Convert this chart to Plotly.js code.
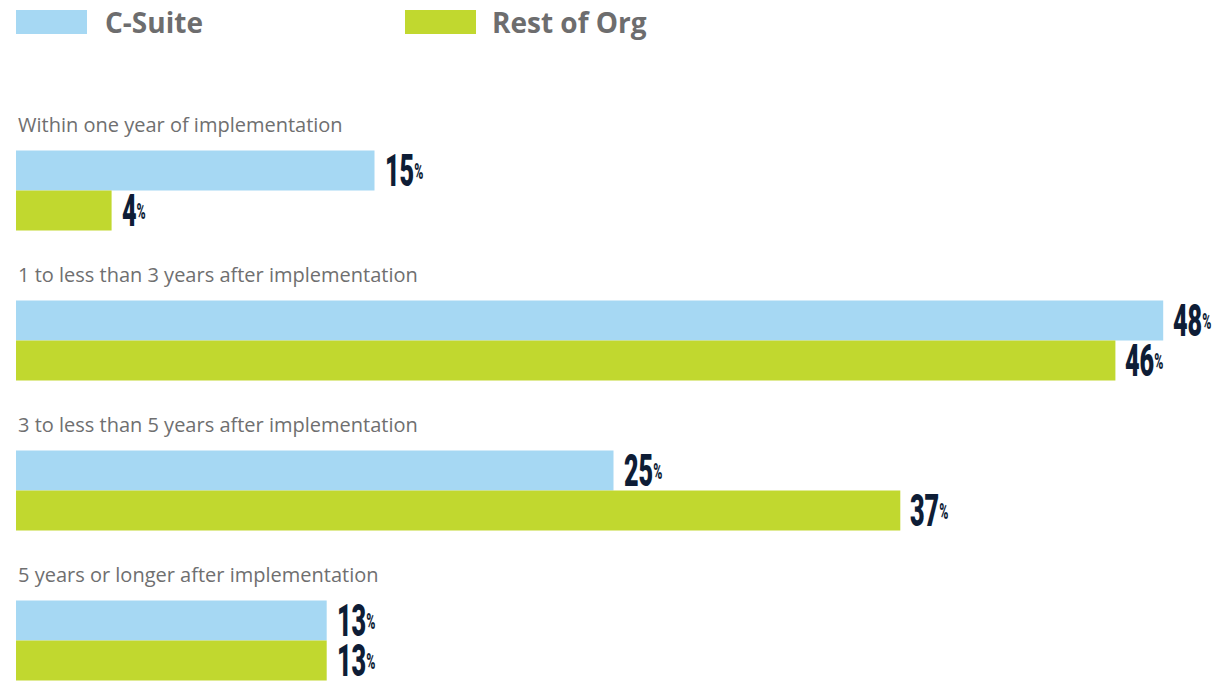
<!DOCTYPE html>
<html>
<head>
<meta charset="utf-8">
<script src="https://cdn.plot.ly/plotly-3.0.1.min.js"></script>
<style>html,body{margin:0;padding:0;background:#fff;}#chart{width:1230px;height:681px;}</style>
</head>
<body>
<div id="chart"></div>
<script>
// ---- data ----
const categories = [
  "Within one year of implementation",
  "1 to less than 3 years after implementation",
  "3 to less than 5 years after implementation",
  "5 years or longer after implementation"
];
const seriesNames = ["C-Suite", "Rest of Org"];
const cSuite = [15, 48, 25, 13];
const restOfOrg = [4, 46, 37, 13];

// ---- style ----
const colors = ["#a6d8f3", "#c1d82f"];
const labelColor = "#0e1d36";
const catColor = "#6f6f70";
const legendColor = "#6d6d6e";
const numFont = "Roboto, Noto Sans, sans-serif";
const txtFont = "Open Sans, Noto Sans, sans-serif";
const condense = 0.56;

const W = 1230, H = 681, L = 16, R = 19;
const plotW = W - L - R;

const traces = [cSuite, restOfOrg].map((vals, i) => ({
  type: "bar",
  orientation: "h",
  name: seriesNames[i],
  x: vals,
  y: categories,
  marker: {color: colors[i], line: {width: 0}},
  hoverinfo: "x+name",
  showlegend: false
}));

const annotations = [];
// value labels
[cSuite, restOfOrg].forEach((vals, i) => {
  vals.forEach((v, j) => {
    annotations.push({
      x: v, y: categories[j], xref: "x", yref: "y",
      text: v + '<span style="font-size:22px;baseline-shift:8px">%</span>',
      showarrow: false, xanchor: "left", yanchor: "middle",
      xshift: 8, yshift: i === 0 ? 20 : -20,
      font: {family: numFont, size: 45, color: labelColor, weight: 900}
    });
  });
});
const nValueLabels = annotations.length;
// category labels
categories.forEach((c) => {
  annotations.push({
    x: 0, y: c, xref: "x", yref: "y",
    text: c, showarrow: false, xanchor: "left", yanchor: "middle",
    xshift: 0, yshift: 66,
    font: {family: txtFont, size: 20, color: catColor}
  });
});
// legend
const legX = [16, 405];
const legTextX = [103, 490];
const shapes = [];
seriesNames.forEach((n, i) => {
  shapes.push({
    type: "rect", xref: "paper", yref: "paper",
    x0: (legX[i] - L) / plotW, x1: (legX[i] + 71 - L) / plotW,
    y0: 1 - 34 / H, y1: 1 - 10 / H,
    fillcolor: colors[i], line: {width: 0}
  });
  annotations.push({
    xref: "paper", yref: "paper",
    x: (legTextX[i] - L) / plotW, y: 1 - 22 / H,
    text: n, showarrow: false, xanchor: "left", yanchor: "middle",
    font: {family: txtFont, size: 28, color: legendColor, weight: 700}
  });
});

const layout = {
  width: W, height: H,
  margin: {l: L, r: R, t: 0, b: 0, pad: 0},
  paper_bgcolor: "#ffffff", plot_bgcolor: "#ffffff",
  barmode: "group", bargap: 0.4667, bargroupgap: 0,
  xaxis: {range: [0, 50], visible: false, fixedrange: true},
  yaxis: {type: "category", range: [3.27, -1.27], visible: false, fixedrange: true},
  annotations: annotations,
  shapes: shapes,
  showlegend: false
};

// Condense the value-label glyphs horizontally (the original uses a narrow display face)
function condenseLabels(gd) {
  gd.querySelectorAll("g.annotation").forEach((g) => {
    const idx = +g.getAttribute("data-index");
    if (idx >= nValueLabels) return;
    const t = g.querySelector("text.annotation-text");
    if (!t) return;
    const bb = t.getBBox();
    const x0 = bb.x;
    t.setAttribute("transform", `translate(${x0},0) scale(${condense},1) translate(${-x0},0)`);
  });
}

Plotly.newPlot("chart", traces, layout, {displayModeBar: false, staticPlot: true})
  .then(condenseLabels);
</script>
</body>
</html>
